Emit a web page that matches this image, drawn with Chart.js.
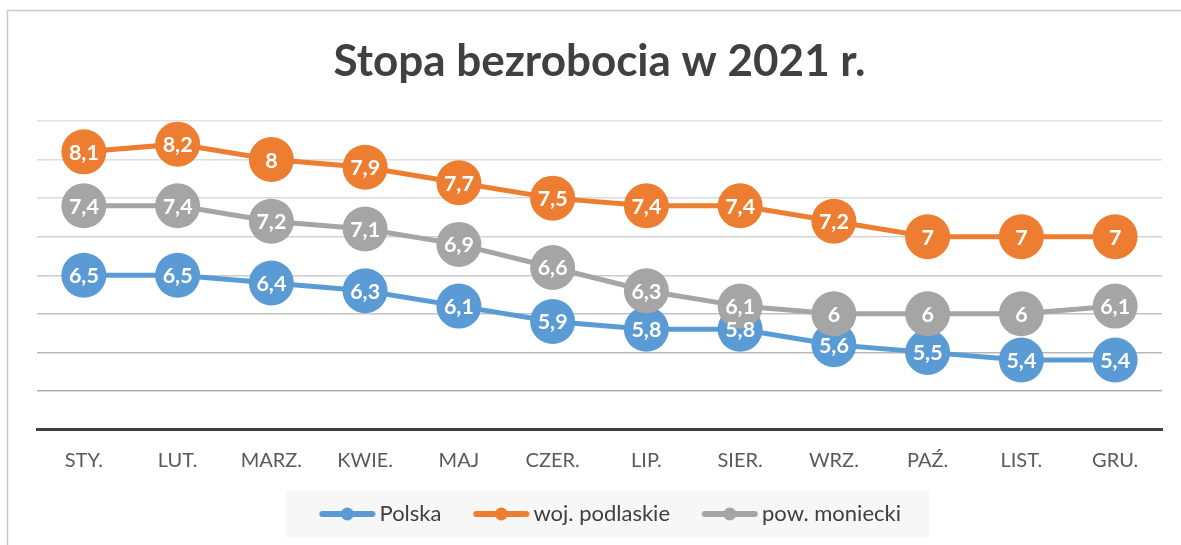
<!DOCTYPE html>
<html><head><meta charset="utf-8">
<script src="https://cdn.jsdelivr.net/npm/chart.js@4/dist/chart.umd.min.js"></script>
<style>html,body{margin:0;padding:0;background:#fff}canvas{display:block}</style>
</head><body>
<canvas id="c" width="1181" height="545"></canvas>
<script>
const categories = ['STY.','LUT.','MARZ.','KWIE.','MAJ','CZER.','LIP.','SIER.','WRZ.','PAŹ.','LIST.','GRU.'];
const polska    = [6.5, 6.5, 6.4, 6.3, 6.1, 5.9, 5.8, 5.8, 5.6, 5.5, 5.4, 5.4];
const podlaskie = [8.1, 8.2, 8.0, 7.9, 7.7, 7.5, 7.4, 7.4, 7.2, 7.0, 7.0, 7.0];
const moniecki  = [7.4, 7.4, 7.2, 7.1, 6.9, 6.6, 6.3, 6.1, 6.0, 6.0, 6.0, 6.1];
const seriesNames = ['Polska', 'woj. podlaskie', 'pow. moniecki'];
const titleText = 'Stopa bezrobocia w 2021 r.';
const yMin = 4.5, yMax = 8.5, yStep = 0.5;

const colors = ['#5B9BD5', '#ED7D31', '#A5A5A5'];
const gridColors = ['#aaaaaa', '#b0b0b0', '#b8b8b8', '#c2c2c2', '#cbcbcb', '#d3d3d3', '#dadada', '#dedede', '#e2e2e2'];
const FONT = 'Lato';

function makeIcon(color) {
  const c = document.createElement('canvas');
  c.width = 85; c.height = 14;
  const x = c.getContext('2d');
  x.strokeStyle = color; x.lineWidth = 6; x.lineCap = 'round';
  x.beginPath(); x.moveTo(28.5 + 3, 7); x.lineTo(84.5 - 3, 7); x.stroke();
  x.fillStyle = color;
  x.beginPath(); x.arc(56.5, 7, 6.5, 0, Math.PI * 2); x.fill();
  return c;
}
const icons = colors.map(makeIcon);

const decorPlugin = {
  id: 'decor',
  beforeDraw(chart) {
    const ctx = chart.ctx;
    ctx.save();
    ctx.strokeStyle = '#c9c9c9';
    ctx.lineWidth = 1.5;
    ctx.strokeRect(7.5, 10.5, 1300, 700);
    const lg = chart.legend;
    if (lg && lg.legendHitBoxes && lg.legendHitBoxes.length) {
      const hb = lg.legendHitBoxes;
      const first = hb[0], last = hb[hb.length - 1];
      const left = first.left - 11.75;
      const right = last.left + last.width + 28;
      const cy = lg.bottom - 21;
      ctx.fillStyle = '#f7f7f7';
      ctx.fillRect(left, cy - 23, right - left, 46);
    }
    ctx.restore();
  }
};

const labelPlugin = {
  id: 'valueLabels',
  afterDatasetsDraw(chart) {
    const ctx = chart.ctx;
    ctx.save();
    ctx.font = 'bold 21.5px ' + FONT;
    ctx.fillStyle = '#ffffff';
    ctx.textAlign = 'center';
    ctx.textBaseline = 'middle';
    chart.data.datasets.forEach((ds, i) => {
      const meta = chart.getDatasetMeta(i);
      meta.data.forEach((pt, j) => {
        const v = ds.data[j];
        ctx.fillText(String(v).replace('.', ','), pt.x, pt.y + 1);
      });
    });
    ctx.restore();
  }
};

const seriesData = [polska, podlaskie, moniecki];
const datasets = seriesData.map((d, i) => ({
  label: seriesNames[i],
  data: d,
  borderColor: colors[i],
  backgroundColor: colors[i],
  borderWidth: 5,
  pointRadius: 22.5,
  pointHoverRadius: 22.5,
  pointBorderWidth: 0,
  pointBackgroundColor: colors[i],
  tension: 0,
  clip: false,
  order: 3 - i
}));

new Chart(document.getElementById('c'), {
  type: 'line',
  data: { labels: categories, datasets },
  options: {
    responsive: false,
    animation: false,
    devicePixelRatio: 1,
    layout: { autoPadding: false, padding: { left: 37, right: 19, top: 10, bottom: 10 } },
    plugins: {
      tooltip: { enabled: false },
      title: {
        display: true,
        text: titleText,
        color: '#404040',
        font: { family: FONT, size: 44, weight: 'bold' },
        padding: { top: 25.5, bottom: 32.7 }
      },
      legend: {
        position: 'bottom',
        labels: {
          usePointStyle: true,
          pointStyleWidth: 70.5,
          padding: 10.5,
          color: '#404040',
          font: { family: FONT, size: 22 },
          sort: (a, b) => a.datasetIndex - b.datasetIndex,
          generateLabels(chart) {
            const items = Chart.defaults.plugins.legend.labels.generateLabels(chart);
            items.forEach(it => { it.pointStyle = icons[it.datasetIndex]; });
            return items;
          }
        }
      }
    },
    scales: {
      x: {
        offset: true,
        grid: { display: false, drawTicks: false },
        border: { display: true, color: '#404040', width: 3 },
        ticks: { color: '#595959', font: { family: FONT, size: 20 }, padding: 19.5, maxRotation: 0, autoSkip: false }
      },
      y: {
        min: yMin, max: yMax,
        ticks: { display: false, stepSize: yStep },
        grid: { color: (c) => gridColors[c.index] || '#d4d4d4', lineWidth: 1.5, drawTicks: false },
        border: { display: false }
      }
    }
  },
  plugins: [decorPlugin, labelPlugin]
});
</script>
</body></html>
